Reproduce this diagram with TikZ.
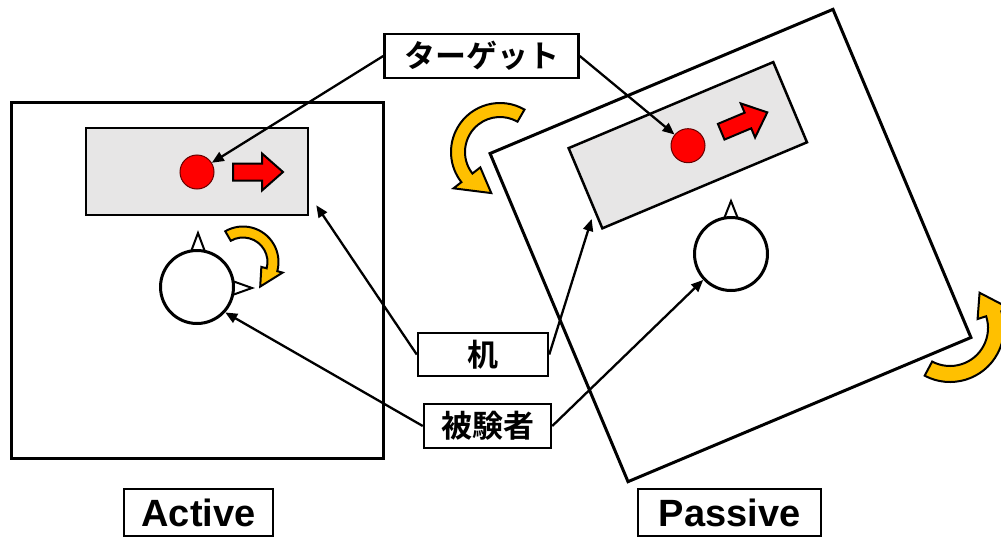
\documentclass[tikz,border=0pt]{standalone}
\usepackage{fontspec}
\newfontfamily\jpfont{Noto Sans CJK JP Bold}
\newfontfamily\lsans{Liberation Sans}
\usetikzlibrary{arrows.meta,calc}
\definecolor{deskgray}{HTML}{E7E6E6}
\definecolor{goldc}{HTML}{FFC000}
\definecolor{redc}{HTML}{FF0000}
\newcommand{\curvarr}[8]{% cx cy r w hw a1 a2 a3
  \filldraw[carrow] ([shift={(#1,#2)}]#6:{#3+#4}) arc[start angle=#6, end angle=#7, radius={#3+#4}]
   -- ([shift={(#1,#2)}]#7:{#3+#5}) -- ([shift={(#1,#2)}]#8:#3) -- ([shift={(#1,#2)}]#7:{#3-#5})
   -- ([shift={(#1,#2)}]#7:{#3-#4}) arc[start angle=#7, end angle=#6, radius={#3-#4}] -- cycle;}
\begin{document}
\begin{tikzpicture}[x=1pt,y=-1pt,
  room/.style={draw=black,line width=3pt},
  desk/.style={rectangle,draw=black,line width=2.5pt,fill=deskgray,minimum width=222pt,minimum height=87pt,inner sep=0pt},
  dot/.style={circle,draw=black!60!red,line width=1pt,fill=redc,minimum size=34pt,inner sep=0pt},
  redarr/.style={fill=redc,draw=black,line width=2pt,line join=miter},
  subj/.style={circle,draw=black,line width=3pt,fill=white,minimum size=73pt,inner sep=0pt},
  ear/.style={draw=black,line width=2pt,fill=white,line join=miter},
  carrow/.style={fill=goldc,draw=black,line width=2pt,line join=miter},
  lbl/.style={rectangle,draw=black,line width=2.5pt,fill=white,inner sep=0pt,font=\jpfont\fontsize{31}{31}\selectfont},
  tag/.style={rectangle,draw=black,line width=2.5pt,fill=white,inner sep=0pt,font=\lsans\bfseries\fontsize{38}{38}\selectfont},
  conn/.style={line width=2.3pt,-{Triangle[length=12pt,width=10pt]}}
]
\fill[white] (0,0) rectangle (1001,538);
\useasboundingbox (0,0) rectangle (1001,538);

% Active room
\draw[room] (11.5,102.5) rectangle (383.5,458.5);
\node[desk] (deskA) at (197,171.5) {};
\node[dot] (dotA) at (197,172) {};
\filldraw[redarr] (233,163.5) -- (262,163.5) -- (262,153.5) -- (283,172) -- (262,190.5) -- (262,180.5) -- (233,180.5) -- cycle;
\draw[ear] (190.5,253) -- (198,233) -- (205.5,253) -- cycle;
\draw[ear] (231,280.5) -- (252,288) -- (231,295.5) -- cycle;
\node[subj] (subjA) at (197,287) {};

% Passive room (rotated)
\begin{scope}[shift={(730.5,245.5)}, rotate=22.8]
  \draw[room] (-186,-178) rectangle (186,178);
  \node[desk, transform shape] (deskP) at (-0.5,-109) {};
  \node[dot] (dotP) at (-0.5,-108.5) {};
  \filldraw[redarr] (35.5,-117) -- (64.5,-117) -- (64.5,-127) -- (85.5,-108.5) -- (64.5,-90) -- (64.5,-100) -- (35.5,-100) -- cycle;
\end{scope}
\draw[ear] (723.5,220) -- (731,201) -- (738.5,220) -- cycle;
\node[subj] (subjP) at (731,254) {};

% rotation arrows
\curvarr{500}{152}{42}{7}{17}{-60}{-218}{-258}
\curvarr{950}{328}{46}{8}{17}{118}{-18}{-50}
\curvarr{243}{262}{30}{5.5}{11}{-120}{15}{55}

% labels
\node[lbl, minimum width=194pt, minimum height=44pt] (lT) at (481.5,56) {ターゲット};
\node[lbl, minimum width=130pt, minimum height=43pt] (lD) at (483,354.5) {机};
\node[lbl, minimum width=127pt, minimum height=44pt] (lS) at (487.5,426) {被験者};
\node[tag, minimum width=149pt, minimum height=47pt] (tA) at (198.5,512.5) {Active};
\node[tag, minimum width=183pt, minimum height=47pt] (tP) at (729.5,512.5) {Passive};

% connectors
\draw[conn] (lT.west) -- (dotA);
\draw[conn] (lT.east) -- (dotP);
\draw[conn] (lD.west) -- ([shift={(7,-11)}]deskA.south east);
\draw[conn] (lD.east) -- ([shift={(-10,-11)}]deskP.south west);
\draw[conn] (lS.west) -- (subjA.-42);
\draw[conn] (lS.east) -- (subjP.-137);
\end{tikzpicture}
\end{document}
